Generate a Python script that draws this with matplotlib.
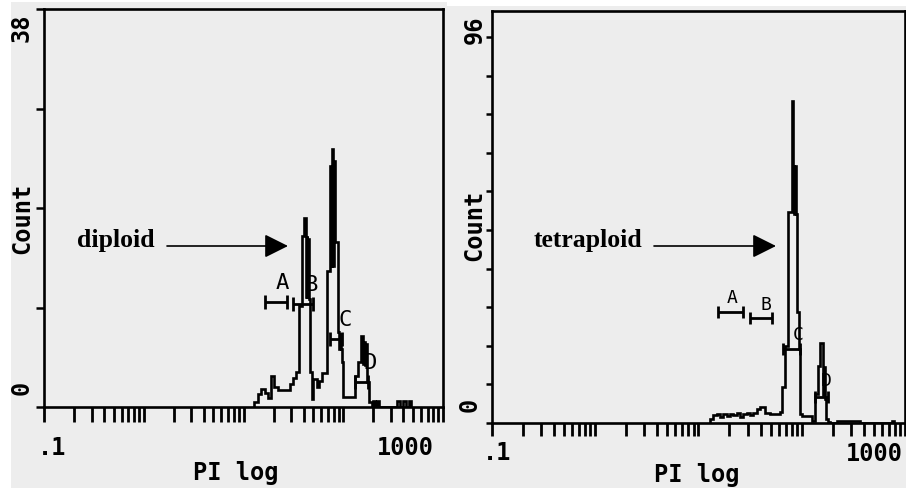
import matplotlib
matplotlib.use("Agg")
import matplotlib.pyplot as plt
from matplotlib.patches import Rectangle, FancyArrowPatch
from matplotlib.ticker import FixedLocator, NullFormatter, NullLocator

# ---------------- data ----------------
# Left panel (diploid) histogram: bin edges on PI (log) axis and counts
left_edges = [12.67, 13.89, 14.89, 16.33, 17.51, 18.76, 20.11, 22.05, 29.09, 31.17,
              33.41, 35.81, 38.37, 40.18, 42.09, 42.87, 43.67, 44.49, 45.31, 46.16,
              48.33, 49.45, 54.24, 56.80, 60.87, 68.32, 73.21, 74.92, 76.66, 78.44,
              80.28, 82.15, 88.07, 90.15, 92.24, 94.39, 96.60, 98.85, 130.4, 139.8,
              149.8, 156.9, 160.5, 164.3, 168.1, 172.0, 180.1, 193.1, 197.6, 206.9,
              216.7, 226.9, 343.8, 368.5, 395.0, 423.3, 453.6, 475.1]
left_counts = [0.5, 1.2, 1.7, 1.3, 0.9, 3.0, 1.9, 1.6, 2.2,
               2.8, 3.3, 9.6, 16.3, 18.0, 10.5, 16.3, 10.5, 16.0, 10.3,
               3.3, 0.8, 2.7, 1.9, 2.5, 3.2, 13.0, 23.0, 13.5, 24.6,
               13.5, 23.5, 15.8, 7.2, 5.5, 7.0, 5.5, 4.3, 1.0, 3.0,
               4.3, 6.8, 4.1, 6.2, 4.0, 6.0, 2.4, 0.5, 0.0, 0.6,
               0.0, 0.6, 0.0, 0.6, 0.0, 0.6, 0.0, 0.6]

# Right panel (tetraploid) histogram
right_edges = [12.98, 13.88, 15.17, 16.22, 17.34, 18.96, 20.27, 21.67, 23.69, 25.33,
               27.08, 29.61, 31.66, 33.84, 37.00, 39.57, 44.23, 49.44, 61.80, 64.62,
               69.07, 73.86, 80.74, 82.56, 84.41, 86.34, 88.29, 90.28, 94.37, 96.50,
               100.9, 126.1, 134.8, 144.1, 150.7, 161.1, 164.8, 168.5, 172.3, 180.1,
               188.3, 220.1, 367.6, 750.4, 784.6]
right_counts = [1.0, 2.0, 2.3, 1.6, 2.3, 1.7, 2.3, 2.0, 2.4,
                1.4, 2.2, 2.4, 1.9, 2.6, 3.5, 3.9, 2.5, 2.2, 2.8,
                9.0, 19.1, 52.5, 80.2, 64.0, 52.0, 64.0, 52.0, 27.6, 18.4,
                2.2, 1.8, 0.6, 7.2, 14.2, 19.9, 7.0, 14.0, 6.0, 1.0,
                0.3, 0.0, 0.5, 0.0, 0.6]

# Gate markers: name, start, end, level
left_gates = [("A", 16.3, 27.3, 10.0), ("B", 31.2, 49.4, 9.8),
              ("C", 73.2, 96.6, 6.5), ("D", 130.4, 177.0, 2.4)]
left_gate_labels = [("A", 24.2, 11.9), ("B", 47.2, 11.7), ("C", 103.5, 8.4), ("D", 184.4, 4.3)]
right_gates = [("A", 15.5, 27.1, 27.6), ("B", 31.7, 51.7, 26.1),
               ("C", 66.1, 96.5, 18.4), ("D", 134.8, 180.1, 6.5)]
right_gate_labels = [("A", 21.2, 31.3), ("B", 45.2, 29.6), ("C", 92.3, 22.1), ("D", 172.3, 10.7)]

left_yticks = [0, 9.5, 19, 28.5, 38]
right_yticks = [0, 9.6, 19.2, 28.8, 38.4, 48, 57.6, 67.2, 76.8, 86.4, 96]
x_ticks = [m * 10.0 ** e for e in (-1, 0, 1, 2) for m in range(1, 10)] + [1000]

# ---------------- figure ----------------
W, H = 906, 489
BG = "#ededed"
MONO = "DejaVu Sans Mono"
SERIF = "Liberation Serif"

fig = plt.figure(figsize=(W / 100, H / 100), dpi=100, facecolor="white")


def fx(px):
    return px / W


def fy(py):
    return 1 - py / H


# scanned panel backgrounds
fig.add_artist(Rectangle((fx(11), 0), fx(447) - fx(11), fy(3), transform=fig.transFigure,
                         facecolor=BG, edgecolor="none", zorder=-10))
fig.add_artist(Rectangle((fx(447), 0), 1 - fx(447), fy(7), transform=fig.transFigure,
                         facecolor=BG, edgecolor="none", zorder=-10))

ax1 = fig.add_axes([fx(44), fy(408), (443 - 44) / W, (408 - 10) / H])
ax2 = fig.add_axes([fx(491.7), fy(424), (905 - 491.7) / W, (424 - 12) / H])


def style(ax, ylim, yticks, xlen, ylen):
    ax.set_facecolor("none")
    ax.set_xscale("log")
    ax.set_xlim(0.1, 1000)
    ax.set_ylim(*ylim)
    ax.xaxis.set_major_locator(FixedLocator(x_ticks))
    ax.xaxis.set_major_formatter(NullFormatter())
    ax.xaxis.set_minor_locator(NullLocator())
    ax.yaxis.set_major_locator(FixedLocator(yticks))
    ax.yaxis.set_major_formatter(NullFormatter())
    ax.tick_params(axis="x", direction="out", length=xlen, width=2.0, color="black")
    ax.tick_params(axis="y", direction="out", length=ylen, width=1.8, color="black")
    for s in ax.spines.values():
        s.set_linewidth(1.9)
        s.set_color("black")


style(ax1, (0, 38), left_yticks, 11, 6)
style(ax2, (0, 102.5), right_yticks, 9, 4.5)

ax1.stairs(left_counts, left_edges, baseline=0, color="black", lw=1.9)
ax2.stairs(right_counts, right_edges, baseline=0, color="black", lw=1.9)

for ax, gates, labels, ms, fs in ((ax1, left_gates, left_gate_labels, 9.5, 16),
                                  (ax2, right_gates, right_gate_labels, 8.5, 13)):
    for name, x0, x1, lvl in gates:
        ax.plot([x0, x1], [lvl, lvl], color="black", lw=2.0, marker="|",
                markersize=ms, markeredgewidth=2.0, solid_capstyle="butt")
    for name, x, y in labels:
        ax.text(x, y, name, family=MONO, fontsize=fs, ha="center", va="center")

# axis texts (rotated y labels, x end labels, axis titles)
fs_lab = 17
tk = dict(family=MONO, fontsize=fs_lab, fontweight="bold")
fig.text(fx(22), fy(28), "38", rotation=90, ha="center", va="center", **tk)
fig.text(fx(22), fy(388), "0", rotation=90, ha="center", va="center", **tk)
fig.text(fx(22), fy(218), "Count", rotation=90, ha="center", va="center", **tk)
fig.text(fx(52), fy(455), ".1", ha="center", va="baseline", **tk)
fig.text(fx(405), fy(455), "1000", ha="center", va="baseline", **tk)
fig.text(fx(236), fy(480), "PI log", ha="center", va="baseline", **tk)

fig.text(fx(475), fy(30), "96", rotation=90, ha="center", va="center", **tk)
fig.text(fx(470), fy(405), "0", rotation=90, ha="center", va="center", **tk)
fig.text(fx(474), fy(225), "Count", rotation=90, ha="center", va="center", **tk)
fig.text(fx(497), fy(460), ".1", ha="center", va="baseline", **tk)
fig.text(fx(874), fy(461), "1000", ha="center", va="baseline", **tk)
fig.text(fx(697), fy(482), "PI log", ha="center", va="baseline", **tk)

# annotations
fig.text(fx(116), fy(240), "diploid", family=SERIF, fontweight="bold", fontsize=18.5,
         ha="center", va="center")
fig.text(fx(588), fy(240), "tetraploid", family=SERIF, fontweight="bold", fontsize=18.5,
         ha="center", va="center")
arrow_kw = dict(arrowstyle="-|>,head_length=1.0,head_width=0.5", color="black", lw=1.2,
                mutation_scale=14.5, shrinkA=0, shrinkB=0)
fig.add_artist(FancyArrowPatch((fx(167), fy(247)), (fx(288), fy(247)),
                               transform=fig.transFigure, **arrow_kw))
fig.add_artist(FancyArrowPatch((fx(654), fy(247)), (fx(776), fy(247)),
                               transform=fig.transFigure, **arrow_kw))

fig.savefig("out.png", dpi=100, facecolor=fig.get_facecolor())
